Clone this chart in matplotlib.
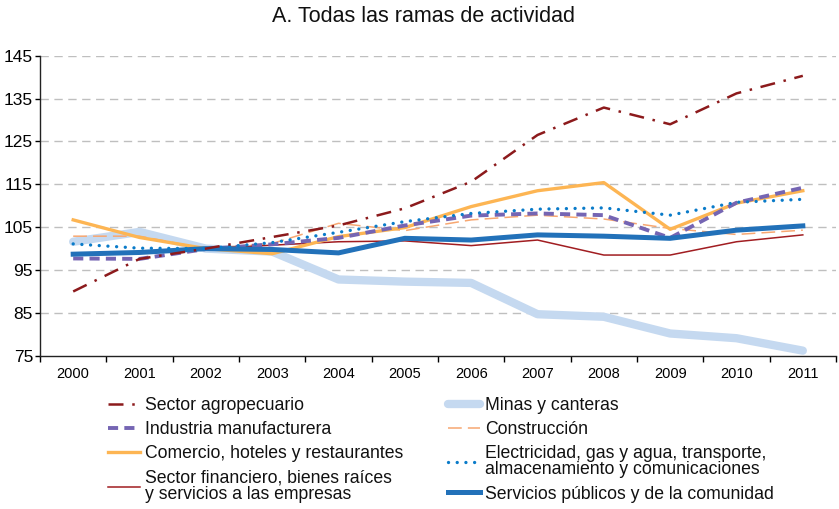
import matplotlib
matplotlib.use("Agg")
import matplotlib.pyplot as plt
from matplotlib.ticker import FixedLocator

plt.rcParams["font.family"] = ["Liberation Sans", "DejaVu Sans"]

# ── Data: index by branch of activity (2002 = 100)
years = ["2000", "2001", "2002", "2003", "2004", "2005",
         "2006", "2007", "2008", "2009", "2010", "2011"]

agropecuario  = [90.0, 97.6, 100.0, 102.7, 105.4, 109.4, 115.6, 126.5, 132.9, 129.0, 136.2, 140.3]
manufactura   = [97.7, 97.6, 99.9, 101.0, 102.5, 105.4, 107.7, 108.2, 107.8, 102.5, 110.7, 114.2]
comercio      = [106.7, 102.6, 100.0, 98.8, 102.8, 104.9, 109.8, 113.5, 115.4, 104.5, 110.6, 113.5]
financiero    = [98.5, 99.0, 100.0, 100.8, 101.6, 101.8, 100.7, 102.0, 98.5, 98.5, 101.6, 103.2]
minas         = [101.6, 103.9, 100.0, 99.3, 92.8, 92.3, 92.0, 84.7, 84.1, 80.2, 79.1, 76.2]
construccion  = [102.9, 102.9, 100.0, 101.2, 105.9, 104.2, 106.7, 107.8, 106.9, 104.7, 103.3, 104.3]
electricidad  = [101.1, 100.1, 100.0, 101.4, 103.8, 106.3, 108.2, 109.2, 109.5, 107.8, 110.8, 111.5]
servicios     = [98.7, 99.1, 100.0, 99.8, 99.0, 102.4, 102.0, 103.2, 102.9, 102.4, 104.3, 105.3]

labels = {
    "agro": "Sector agropecuario",
    "manu": "Industria manufacturera",
    "come": "Comercio, hoteles y restaurantes",
    "fina": "Sector financiero, bienes raíces\ny servicios a las empresas",
    "mina": "Minas y canteras",
    "cons": "Construcción",
    "elec": "Electricidad, gas y agua, transporte,\nalmacenamiento y comunicaciones",
    "serv": "Servicios públicos y de la comunidad",
}

x = list(range(len(years)))

fig = plt.figure(figsize=(8.39, 5.09), dpi=100)
ax = fig.add_axes([0.0477, 0.301, 0.9487, 0.5896])

h = {}
h["mina"], = ax.plot(x, minas, color="#c5d9f0", lw=6.0, solid_capstyle="round", zorder=2)
h["cons"], = ax.plot(x, construccion, color="#f7a771", lw=1.1,
                     linestyle=(0, (9, 4)), zorder=3)
h["fina"], = ax.plot(x, financiero, color="#a11d21", lw=1.1, zorder=3)
h["come"], = ax.plot(x, comercio, color="#fdb553", lw=2.4, zorder=4)
h["manu"], = ax.plot(x, manufactura, color="#7565b3", lw=2.8,
                     linestyle=(0, (2.6, 1.6)), zorder=5)
h["elec"], = ax.plot(x, electricidad, color="#0a7bc9", lw=2.4,
                     linestyle=(0, (0.01, 2.6)), dash_capstyle="round", zorder=6)
h["serv"], = ax.plot(x, servicios, color="#2271b9", lw=3.6, zorder=5)
h["agro"], = ax.plot(x, agropecuario, color="#8c1a1c", lw=1.8,
                     linestyle=(0, (6, 3.5, 1, 3.5)), zorder=7)

# ── Axes styling
ax.set_xlim(-0.5, len(years) - 0.5)
ax.set_ylim(75, 145)
ax.set_xticks(x)
ax.set_xticklabels(years, fontsize=10.5)
ax.xaxis.set_minor_locator(FixedLocator([i - 0.5 for i in range(len(years) + 1)]))
ax.tick_params(axis="x", which="major", length=0, pad=8)
ax.tick_params(axis="x", which="minor", length=4, width=1, direction="out")
ax.set_yticks(range(75, 146, 10))
ax.tick_params(axis="y", labelsize=12.5, length=3.5, width=1, pad=1.5)

for v in range(85, 146, 10):
    ax.axhline(v, color="#bfbfbf", lw=1.0, linestyle=(0, (6, 4)), zorder=1)

ax.spines[["top", "right"]].set_visible(False)
for s in ("left", "bottom"):
    ax.spines[s].set_linewidth(1.0)
    ax.spines[s].set_color("#222222")

fig.text(0.505, 0.968, "A. Todas las ramas de actividad", fontsize=15.5,
         ha="center", va="center", color="#111111")

order = ["agro", "manu", "come", "fina", "mina", "cons", "elec", "serv"]
leg = fig.legend([h[k] for k in order], [labels[k] for k in order],
                 ncol=2, loc="upper left", bbox_to_anchor=(0.118, 0.238),
                 frameon=False, fontsize=12.7, handlelength=1.8, handletextpad=0.3,
                 columnspacing=2.57, labelspacing=0.42, borderpad=0.0)
for t in leg.get_texts():
    t.set_linespacing(0.9)
    t.set_color("#111111")

fig.savefig("out.png", dpi=100)
